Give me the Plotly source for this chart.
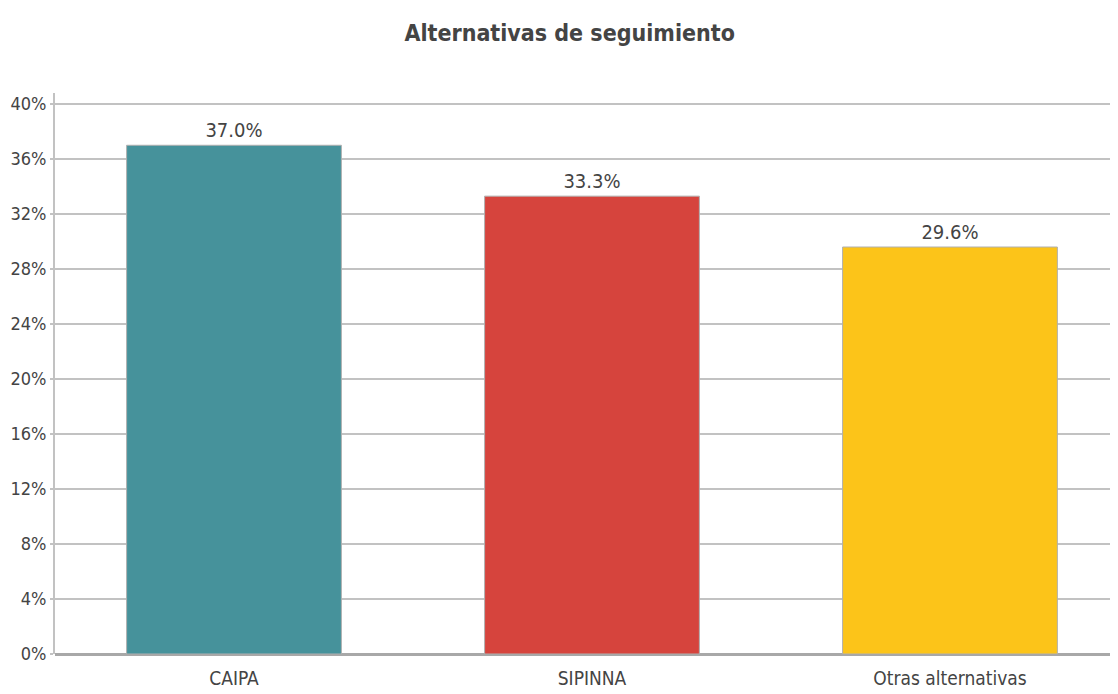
import plotly.graph_objects as go

categories = ["CAIPA", "SIPINNA", "Otras alternativas"]
values = [37.0, 33.3, 29.6]
labels = ["37.0%", "33.3%", "29.6%"]
colors = ["#46929B", "#D6443D", "#FCC419"]
tick_vals = [0, 4, 8, 12, 16, 20, 24, 28, 32, 36, 40]
tick_text = [f"{v}%" for v in tick_vals]

FONT = "DejaVu Sans Condensed, Liberation Sans Narrow, Roboto Condensed, sans-serif"
TXT = "#444444"

fig = go.Figure(
    go.Bar(
        x=categories,
        y=values,
        text=labels,
        textposition="outside",
        textfont=dict(family=FONT, size=20, color=TXT),
        marker=dict(color=colors, line=dict(color="#b0b0b0", width=1)),
        width=0.6,
        cliponaxis=False,
    )
)

fig.update_layout(
    width=1110,
    height=686,
    margin=dict(l=47, r=0, t=85, b=40),
    paper_bgcolor="white",
    plot_bgcolor="white",
    showlegend=False,
    title=dict(
        text="<b>Alternativas de seguimiento</b>",
        x=0.506,
        xanchor="center",
        y=0.9636,
        yanchor="middle",
        font=dict(family=FONT, size=23, color=TXT),
    ),
    font=dict(family=FONT, color=TXT),
)

fig.update_xaxes(
    range=[-0.5, 2.4693],
    showgrid=False,
    showline=False,
    ticks="",
    automargin=False,
    ticklabelstandoff=11,
    tickfont=dict(family=FONT, size=19, color=TXT),
)

fig.update_yaxes(
    range=[0, 40.8],
    tickvals=tick_vals,
    ticktext=tick_text,
    showgrid=True,
    gridcolor="#c2c2c2",
    gridwidth=2,
    showline=True,
    linecolor="#c2c2c2",
    linewidth=2,
    ticks="outside",
    ticklen=3,
    tickcolor="#c2c2c2",
    tickwidth=2,
    zeroline=True,
    zerolinecolor="#a8a8a8",
    zerolinewidth=3,
    automargin=False,
    ticklabelstandoff=0,
    tickfont=dict(family=FONT, size=18, color=TXT),
)

fig.write_html("out.html")
